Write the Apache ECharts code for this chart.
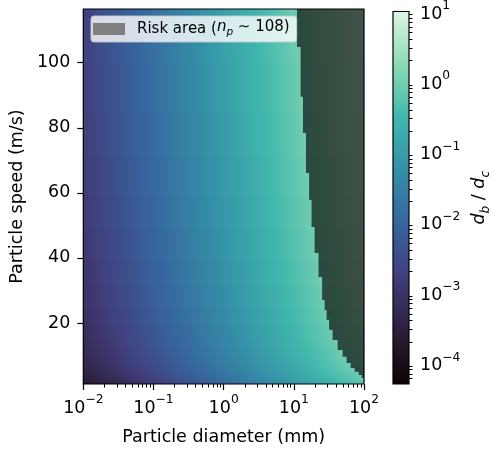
<!DOCTYPE html>
<html><head><meta charset="utf-8">
<script src="https://cdn.jsdelivr.net/npm/echarts@6/dist/echarts.min.js"></script>
<style>html,body{margin:0;padding:0;background:#fff}#c{width:493px;height:451px}</style>
</head><body><div id="c"></div>
<script>
// ---------------- data ----------------
// grid columns: particle diameter (mm)
const diameterMm = [0.01, 0.0178, 0.0316, 0.0562, 0.1, 0.178, 0.316, 0.562, 1, 1.78, 3.16, 5.62, 10, 17.8, 31.6, 56.2, 100];
// grid rows: particle speed (m/s)
const speedMs = [1.5, 2, 2.5, 3, 3.5, 4.25, 5, 6, 7, 8.25, 9.5, 11, 13, 15, 17, 22, 28, 35, 44, 54, 65, 78, 92, 108];
// log10(d_b / d_c), one row per speed, one column per diameter
const log10Ratio = [
  [-3.76,-3.54,-3.32,-3.10,-2.89,-2.67,-2.45,-2.23,-2.02,-1.80,-1.58,-1.36,-1.15,-0.93,-0.71,-0.49,-0.28],
  [-3.69,-3.47,-3.25,-3.03,-2.82,-2.60,-2.38,-2.16,-1.95,-1.73,-1.51,-1.29,-1.08,-0.86,-0.64,-0.42,-0.21],
  [-3.63,-3.41,-3.20,-2.98,-2.76,-2.54,-2.33,-2.11,-1.89,-1.67,-1.46,-1.24,-1.02,-0.80,-0.59,-0.37,-0.15],
  [-3.59,-3.37,-3.15,-2.93,-2.72,-2.50,-2.28,-2.06,-1.85,-1.63,-1.41,-1.19,-0.98,-0.76,-0.54,-0.32,-0.11],
  [-3.55,-3.33,-3.11,-2.89,-2.68,-2.46,-2.24,-2.02,-1.81,-1.59,-1.37,-1.15,-0.94,-0.72,-0.50,-0.28,-0.07],
  [-3.50,-3.28,-3.06,-2.85,-2.63,-2.41,-2.19,-1.98,-1.76,-1.54,-1.32,-1.11,-0.89,-0.67,-0.45,-0.24,-0.02],
  [-3.46,-3.24,-3.02,-2.81,-2.59,-2.37,-2.15,-1.94,-1.72,-1.50,-1.28,-1.07,-0.85,-0.63,-0.41,-0.20,0.02],
  [-3.41,-3.20,-2.98,-2.76,-2.54,-2.33,-2.11,-1.89,-1.67,-1.46,-1.24,-1.02,-0.80,-0.59,-0.37,-0.15,0.07],
  [-3.38,-3.16,-2.94,-2.72,-2.51,-2.29,-2.07,-1.85,-1.64,-1.42,-1.20,-0.98,-0.77,-0.55,-0.33,-0.11,0.11],
  [-3.34,-3.12,-2.90,-2.68,-2.47,-2.25,-2.03,-1.81,-1.60,-1.38,-1.16,-0.94,-0.73,-0.51,-0.29,-0.07,0.15],
  [-3.30,-3.08,-2.87,-2.65,-2.43,-2.21,-2.00,-1.78,-1.56,-1.34,-1.13,-0.91,-0.69,-0.47,-0.26,-0.04,0.18],
  [-3.26,-3.05,-2.83,-2.61,-2.39,-2.18,-1.96,-1.74,-1.52,-1.31,-1.09,-0.87,-0.65,-0.44,-0.22,0.00,0.22],
  [-3.22,-3.00,-2.79,-2.57,-2.35,-2.13,-1.92,-1.70,-1.48,-1.26,-1.05,-0.83,-0.61,-0.39,-0.18,0.04,0.26],
  [-3.19,-2.97,-2.75,-2.53,-2.32,-2.10,-1.88,-1.66,-1.45,-1.23,-1.01,-0.79,-0.58,-0.36,-0.14,0.08,0.29],
  [-3.16,-2.94,-2.72,-2.50,-2.29,-2.07,-1.85,-1.63,-1.42,-1.20,-0.98,-0.76,-0.55,-0.33,-0.11,0.11,0.32],
  [-3.09,-2.87,-2.66,-2.44,-2.22,-2.00,-1.79,-1.57,-1.35,-1.13,-0.92,-0.70,-0.48,-0.26,-0.05,0.17,0.39],
  [-3.03,-2.81,-2.60,-2.38,-2.16,-1.94,-1.73,-1.51,-1.29,-1.07,-0.86,-0.64,-0.42,-0.20,0.01,0.23,0.45],
  [-2.98,-2.76,-2.54,-2.32,-2.11,-1.89,-1.67,-1.45,-1.24,-1.02,-0.80,-0.58,-0.37,-0.15,0.07,0.29,0.50],
  [-2.92,-2.70,-2.49,-2.27,-2.05,-1.83,-1.62,-1.40,-1.18,-0.96,-0.75,-0.53,-0.31,-0.09,0.13,0.34,0.56],
  [-2.87,-2.65,-2.44,-2.22,-2.00,-1.78,-1.57,-1.35,-1.13,-0.91,-0.70,-0.48,-0.26,-0.04,0.18,0.39,0.61],
  [-2.82,-2.61,-2.39,-2.17,-1.95,-1.74,-1.52,-1.30,-1.08,-0.87,-0.65,-0.43,-0.21,0.00,0.22,0.44,0.66],
  [-2.78,-2.56,-2.34,-2.13,-1.91,-1.69,-1.47,-1.26,-1.04,-0.82,-0.60,-0.39,-0.17,0.05,0.27,0.48,0.70],
  [-2.74,-2.52,-2.30,-2.09,-1.87,-1.65,-1.43,-1.22,-1.00,-0.78,-0.56,-0.35,-0.13,0.09,0.31,0.52,0.74],
  [-2.70,-2.48,-2.26,-2.05,-1.83,-1.61,-1.39,-1.18,-0.96,-0.74,-0.52,-0.31,-0.09,0.13,0.35,0.56,0.78]
];
// risk area boundary (stepped): each band spans from its top speed down to the next band's top speed
const riskBandTopSpeed = [116.5, 104.8, 89.5, 78.4, 66.1, 57.8, 49.5, 41.5, 34.1, 27.1, 24.0, 21.0, 17.9, 14.8, 11.7, 9.6, 7.7, 6.2, 5.0, 4.0];
const riskBandDiameter = [11.1, 12.5, 13.5, 14.9, 16.5, 17.9, 19.8, 22.5, 25.3, 27.5, 29.3, 31.8, 35.7, 42.1, 49.6, 56.6, 64.6, 73.6, 84.0, 92.7];
const riskBottomSpeed = 3.1;
const riskLabel = 'Risk area';
const riskNp = 108;
// axes / ticks
const xRange = [0.01, 100];
const yRange = [1.25, 116.5];
const colorRange = [Math.pow(10, -4.3), 10];
const xMajorTicks = [0.01, 0.1, 1, 10, 100];
const xMinorTicks = [0.02,0.03,0.04,0.05,0.06,0.07,0.08,0.09, 0.2,0.3,0.4,0.5,0.6,0.7,0.8,0.9, 2,3,4,5,6,7,8,9, 20,30,40,50,60,70,80,90];
const yTicks = [20, 40, 60, 80, 100];
const cbMajorTicks = [1e-4, 1e-3, 1e-2, 1e-1, 1, 10];
const cbMinorTicks = [6e-5,7e-5,8e-5,9e-5, 2e-4,3e-4,4e-4,5e-4,6e-4,7e-4,8e-4,9e-4, 2e-3,3e-3,4e-3,5e-3,6e-3,7e-3,8e-3,9e-3,
  2e-2,3e-2,4e-2,5e-2,6e-2,7e-2,8e-2,9e-2, 0.2,0.3,0.4,0.5,0.6,0.7,0.8,0.9, 2,3,4,5,6,7,8,9];

// ---------------- style ----------------
const FONT = 'DejaVu Sans';
const FS = 17.5;
const makoStops = [
  [0.0, [11, 4, 5]], [0.143, [46, 30, 59]], [0.286, [65, 61, 123]], [0.429, [55, 101, 158]],
  [0.571, [52, 143, 167]], [0.714, [64, 183, 173]], [0.857, [139, 218, 178]], [1.0, [222, 245, 229]]
];
const LMIN = Math.log10(colorRange[0]), LMAX = Math.log10(colorRange[1]);
function cmapT(t) {
  t = Math.max(0, Math.min(1, t));
  for (let i = 1; i < makoStops.length; i++) {
    if (t <= makoStops[i][0]) {
      const a = makoStops[i - 1], b = makoStops[i];
      const f = (t - a[0]) / (b[0] - a[0]);
      const c = a[1].map((v, k) => Math.round(v + (b[1][k] - v) * f));
      return 'rgb(' + c.join(',') + ')';
    }
  }
  return 'rgb(222,245,229)';
}
function cmapLog(l) { return cmapT((l - LMIN) / (LMAX - LMIN)); }

const rich = {
  b: { fontFamily: FONT, fontSize: FS, color: '#000', lineHeight: 23, verticalAlign: 'bottom' },
  sup: { fontFamily: FONT, fontSize: FS * 0.7, color: '#000', lineHeight: 14, verticalAlign: 'top' }
};
function powLabel(v) {
  const e = Math.round(Math.log10(v));
  return '{b|10}{sup|' + (e < 0 ? '\u2212' + (-e) : e) + '}';
}

// one heatmap band per speed row (index into the tables above)
const rowData = speedMs.map((v, r) => [r]);
const SUB = 4; // shading stops between neighbouring columns

const chart = echarts.init(document.getElementById('c'), null, { renderer: 'canvas', width: 493, height: 451 });

const option = {
  animation: false,
  backgroundColor: '#fff',
  textStyle: { fontFamily: FONT },
  grid: [
    { left: 83, top: 9, width: 281, height: 375, containLabel: false },
    { left: 393, top: 9, width: 19, height: 375, containLabel: false }
  ],
  legend: {
    data: [{ name: riskLabel, icon: 'rect' }],
    left: 91, top: 16,
    itemWidth: 32, itemHeight: 12,
    padding: [4, 7, 4, 2],
    backgroundColor: 'rgba(255,255,255,0.8)',
    borderColor: 'rgba(200,200,200,0.9)', borderWidth: 1, borderRadius: 3,
    selectedMode: false,
    formatter: () => riskLabel + ' ({i|n}{s|p}{t| \u223C ' + riskNp + ')}',
    textStyle: {
      fontFamily: FONT, fontSize: 15, color: '#000', padding: [0, 0, 0, 7], lineHeight: 18, verticalAlign: 'top',
      rich: {
        i: { fontFamily: FONT, fontSize: 15, fontStyle: 'italic', color: '#000', lineHeight: 18, verticalAlign: 'top' },
        s: { fontFamily: FONT, fontSize: 10.5, fontStyle: 'italic', color: '#000', lineHeight: 12, verticalAlign: 'bottom' },
        t: { fontFamily: FONT, fontSize: 15, color: '#000', lineHeight: 18, verticalAlign: 'top' }
      }
    }
  },
  xAxis: [
    {
      type: 'log', logBase: 10, gridIndex: 0, min: xRange[0], max: xRange[1], position: 'bottom',
      name: 'Particle diameter (mm)', nameLocation: 'middle', nameGap: 44,
      nameTextStyle: { fontFamily: FONT, fontSize: FS, color: '#000' },
      axisLine: { show: false }, splitLine: { show: false },
      axisTick: { show: true, length: 6, lineStyle: { color: '#000', width: 1.2 }, customValues: xMajorTicks },
      axisLabel: { show: true, margin: 10, customValues: xMajorTicks, formatter: powLabel, rich: rich }
    },
    {
      type: 'log', logBase: 10, gridIndex: 0, min: xRange[0], max: xRange[1], position: 'bottom',
      axisLine: { show: false }, splitLine: { show: false }, axisLabel: { show: false },
      axisTick: { show: true, length: 3.5, lineStyle: { color: '#000', width: 1 }, customValues: xMinorTicks }
    },
    { type: 'value', gridIndex: 1, min: 0, max: 1, show: false }
  ],
  yAxis: [
    {
      type: 'value', gridIndex: 0, min: yRange[0], max: yRange[1], position: 'left',
      name: 'Particle speed (m/s)', nameLocation: 'middle', nameGap: 50, nameRotate: 90,
      nameTextStyle: { fontFamily: FONT, fontSize: FS, color: '#000' },
      axisLine: { show: false }, splitLine: { show: false },
      axisTick: { show: true, length: 6, lineStyle: { color: '#000', width: 1.2 }, customValues: yTicks },
      axisLabel: { show: true, margin: 13, customValues: yTicks, fontFamily: FONT, fontSize: FS, color: '#000' }
    },
    {
      type: 'log', logBase: 10, gridIndex: 1, min: colorRange[0], max: colorRange[1], position: 'right',
      name: '{it|d}{sb|b}{n| / }{it|d}{sb|c}', nameLocation: 'middle', nameGap: 61, nameRotate: 90,
      nameTextStyle: {
        fontFamily: FONT, fontSize: FS, color: '#000',
        rich: {
          it: { fontFamily: FONT, fontSize: FS, fontStyle: 'italic', color: '#000', lineHeight: 22, verticalAlign: 'top' },
          sb: { fontFamily: FONT, fontSize: FS * 0.7, fontStyle: 'italic', color: '#000', lineHeight: 14, verticalAlign: 'bottom' },
          n: { fontFamily: FONT, fontSize: FS, color: '#000', lineHeight: 22, verticalAlign: 'top' }
        }
      },
      axisLine: { show: false }, splitLine: { show: false },
      axisTick: { show: true, length: 6, lineStyle: { color: '#000', width: 1.2 }, customValues: cbMajorTicks },
      axisLabel: { show: true, margin: 11, customValues: cbMajorTicks, formatter: powLabel, rich: rich }
    },
    {
      type: 'log', logBase: 10, gridIndex: 1, min: colorRange[0], max: colorRange[1], position: 'right',
      axisLine: { show: false }, splitLine: { show: false }, axisLabel: { show: false },
      axisTick: { show: true, length: 3.5, lineStyle: { color: '#000', width: 1 }, customValues: cbMinorTicks }
    }
  ],
  series: [
    {
      type: 'custom', xAxisIndex: 0, yAxisIndex: 0, clip: true, silent: true, z: 1,
      data: rowData,
      renderItem: function (params, api) {
        const r = api.value(0);
        const n = speedMs.length;
        const vLow = r === 0 ? yRange[0] : (speedMs[r - 1] + speedMs[r]) / 2;
        const vHigh = r === n - 1 ? yRange[1] : (speedMs[r] + speedMs[r + 1]) / 2;
        const p0 = api.coord([diameterMm[0], vHigh]);
        const p1 = api.coord([diameterMm[diameterMm.length - 1], vLow]);
        const w = p1[0] - p0[0];
        const stops = [];
        for (let c = 0; c < diameterMm.length - 1; c++) {
          const xa = api.coord([diameterMm[c], vLow])[0], xb = api.coord([diameterMm[c + 1], vLow])[0];
          const a = log10Ratio[r][c], b = log10Ratio[r][c + 1];
          for (let k = 0; k < SUB; k++) {
            const f = k / SUB;
            stops.push({ offset: (xa + (xb - xa) * f - p0[0]) / w, color: cmapLog(a + (b - a) * f) });
          }
        }
        stops.push({ offset: 1, color: cmapLog(log10Ratio[r][diameterMm.length - 1]) });
        return {
          type: 'rect',
          shape: { x: p0[0], y: p0[1], width: w, height: p1[1] - p0[1] + 0.8 },
          style: { fill: new echarts.graphic.LinearGradient(0, 0, 1, 0, stops) }
        };
      }
    },
    {
      type: 'custom', name: riskLabel, xAxisIndex: 0, yAxisIndex: 0, clip: true, silent: true, z: 3,
      itemStyle: { color: '#808080' },
      data: [[0]],
      renderItem: function (params, api) {
        const pts = [];
        const n = riskBandTopSpeed.length;
        for (let i = 0; i < n; i++) {
          const top = riskBandTopSpeed[i];
          const bot = i + 1 < n ? riskBandTopSpeed[i + 1] : riskBottomSpeed;
          pts.push(api.coord([riskBandDiameter[i], top]));
          pts.push(api.coord([riskBandDiameter[i], bot]));
        }
        pts.push(api.coord([xRange[1], riskBottomSpeed]));
        pts.push(api.coord([xRange[1], yRange[1]]));
        return { type: 'polygon', shape: { points: pts }, style: { fill: 'rgba(16,24,20,0.73)' } };
      }
    },
    {
      type: 'custom', xAxisIndex: 0, yAxisIndex: 0, silent: true, z: 5, data: [[0]],
      renderItem: function (params, api) {
        const p0 = api.coord([xRange[0], yRange[1]]), p1 = api.coord([xRange[1], yRange[0]]);
        return { type: 'rect', shape: { x: p0[0], y: p0[1], width: p1[0] - p0[0], height: p1[1] - p0[1] },
          style: { fill: 'none', stroke: '#000', lineWidth: 1.2 } };
      }
    },
    {
      type: 'custom', xAxisIndex: 2, yAxisIndex: 1, silent: true, z: 2, data: [[0]],
      renderItem: function (params, api) {
        const p0 = api.coord([0, colorRange[1]]), p1 = api.coord([1, colorRange[0]]);
        const stops = makoStops.map(s => ({ offset: s[0], color: 'rgb(' + s[1].join(',') + ')' }));
        return {
          type: 'group', children: [
            { type: 'rect', shape: { x: p0[0], y: p0[1], width: p1[0] - p0[0], height: p1[1] - p0[1] },
              style: { fill: new echarts.graphic.LinearGradient(0, 1, 0, 0, stops) } },
            { type: 'rect', shape: { x: p0[0], y: p0[1], width: p1[0] - p0[0], height: p1[1] - p0[1] },
              style: { fill: 'none', stroke: '#000', lineWidth: 1.2 } }
          ]
        };
      }
    }
  ]
};
chart.setOption(option);
</script>
</body></html>
